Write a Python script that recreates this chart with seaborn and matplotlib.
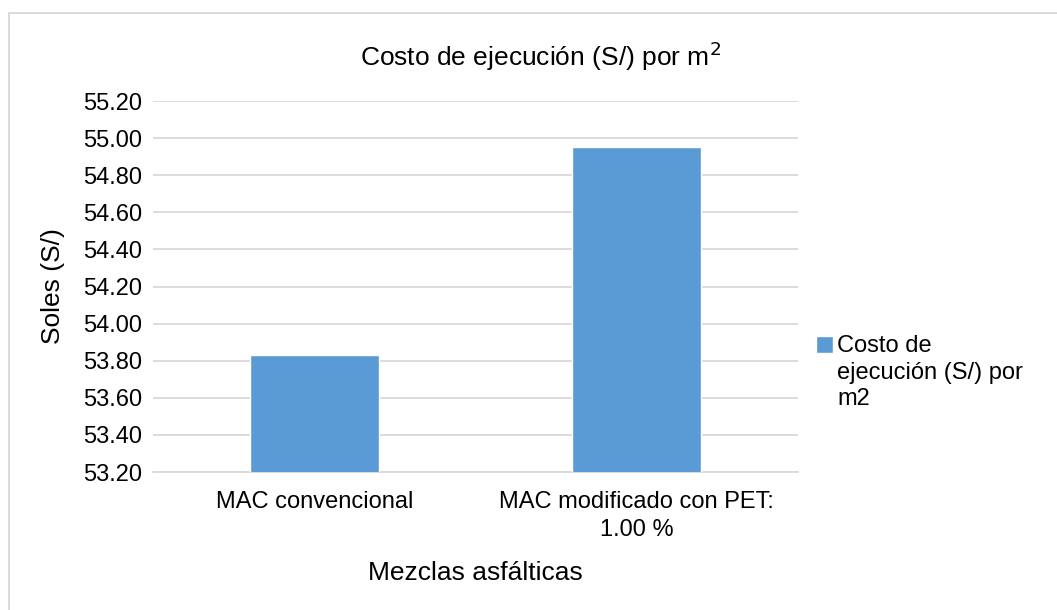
import matplotlib
matplotlib.use("Agg")
import matplotlib.pyplot as plt
import seaborn as sns
import pandas as pd
from matplotlib.patches import Rectangle, Patch

categorias = ["MAC convencional", "MAC modificado con PET:\n1.00 %"]
costos = [53.83, 54.95]
serie = "Costo de\nejecución (S/) por\nm2"
y_ticks = [53.20, 53.40, 53.60, 53.80, 54.00, 54.20, 54.40, 54.60, 54.80, 55.00, 55.20]

sns.set_theme(style="white")
plt.rcParams["font.family"] = ["Liberation Sans", "DejaVu Sans"]
plt.rcParams["text.color"] = "black"
plt.rcParams["axes.labelcolor"] = "black"
plt.rcParams["xtick.color"] = "black"
plt.rcParams["ytick.color"] = "black"

df = pd.DataFrame({"Mezcla": categorias, "Costo": costos})

fig = plt.figure(figsize=(10.57, 6.10), dpi=100)
ax = fig.add_axes([0.1447, 0.2262, 0.6103, 0.6082])

sns.barplot(data=df, x="Mezcla", y="Costo", color="#5B9BD5", width=0.4,
            saturation=1, ax=ax, zorder=3)

ax.set_ylim(53.2, 55.2)
ax.set_xlim(-0.5, 1.5)
ax.set_yticks(y_ticks)
ax.set_yticklabels([f"{v:.2f}" for v in y_ticks], fontsize=17)
ax.yaxis.grid(True, color="#D9D9D9", linewidth=1.3, zorder=0)
ax.set_axisbelow(True)
ax.tick_params(axis="y", length=0, pad=8)
ax.tick_params(axis="x", which="major", length=0, pad=14, labelsize=17)
for t in ax.get_xticklabels():
    t.set_linespacing(1.35)
ax.set_xticks([-0.5, 0.5, 1.5], minor=True)
ax.tick_params(axis="x", which="minor", length=7, color="#D9D9D9", width=1.3)
for s in ["top", "right", "left"]:
    ax.spines[s].set_visible(False)
ax.spines["bottom"].set_color("#D9D9D9")
ax.spines["bottom"].set_linewidth(1.3)

ax.set_xlabel("Mezclas asfálticas", fontsize=19, labelpad=14)
ax.set_ylabel("Soles (S/)", fontsize=19, labelpad=13)

fig.text(0.511, 0.908, "Costo de ejecución (S/) por m$^2$", fontsize=19,
         ha="center", va="center")

leg = fig.legend(handles=[Patch(facecolor="#5B9BD5", label=serie)],
                 loc="upper left", bbox_to_anchor=(0.772, 0.45),
                 frameon=False, fontsize=17, handlelength=0.7,
                 handleheight=0.75, handletextpad=0.2, borderpad=0,
                 borderaxespad=0)
for t in leg.get_texts():
    t.set_linespacing(1.24)
for column in leg._legend_handle_box.get_children():
    for row in column.get_children():
        row.align = "top"

fig.add_artist(Rectangle((9 / 1057, -0.1), 1.2, 1 - 13 / 610 + 0.1,
                         transform=fig.transFigure, fill=False,
                         edgecolor="#D9D9D9", linewidth=1.3))

fig.savefig("out.png", dpi=100)
